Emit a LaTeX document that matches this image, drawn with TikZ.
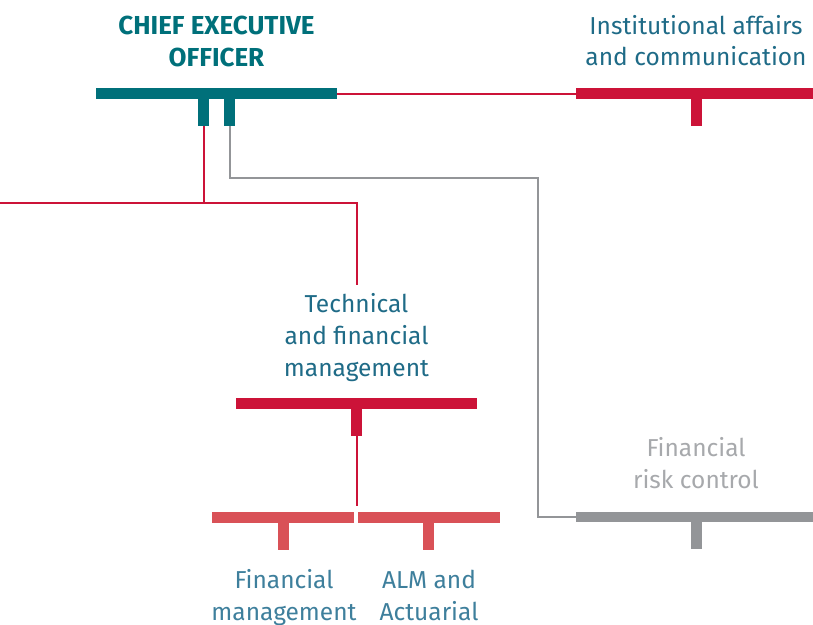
\documentclass[tikz,border=0pt]{standalone}
\usepackage{fontspec}
\setmainfont{Fira Sans}
\begin{document}
\begin{tikzpicture}[x=1pt,y=-1pt,
  bar/.style={fill=#1,draw=none,inner sep=0pt,minimum height=11pt,outer sep=0pt},
  stub/.style={fill=#1,draw=none,inner sep=0pt,minimum width=11pt,minimum height=27pt,outer sep=0pt},
  lbl/.style={text=#1,font=\fontsize{24.5}{32}\selectfont,anchor=base,inner sep=0pt},
  boldlbl/.style={text=#1,font=\fontsize{26}{32}\selectfont\bfseries,anchor=base,inner sep=0pt},
  link/.style={draw=#1,line width=2pt}]
\definecolor{teal}{HTML}{00707A}
\definecolor{crim}{HTML}{CC1338}
\definecolor{lred}{HTML}{D95157}
\definecolor{gry}{HTML}{939598}
\definecolor{txtb}{HTML}{1F6B87}
\definecolor{txtl}{HTML}{3E7F9C}
\definecolor{txtg}{HTML}{A7A9AC}
\useasboundingbox (0,0) rectangle (813,624);
% CEO
\node[boldlbl=teal] (ceo1) at (216.5,34) {CHIEF EXECUTIVE};
\node[boldlbl=teal] (ceo2) at (216.5,66) {OFFICER};
\node[bar=teal,minimum width=241pt] (ceo) at (216.5,93.5) {};
\node[stub=teal] (ceoA) at (203.5,112.5) {};
\node[stub=teal] (ceoB) at (229.5,112.5) {};
% Institutional
\node[lbl=txtb] (ins1) at (696,34) {Institutional affairs};
\node[lbl=txtb] (ins2) at (696,65) {and communication};
\node[bar=crim,minimum width=237pt] (ins) at (694.5,93.5) {};
\node[stub=crim] (insS) at (696.5,112.5) {};
% Technical
\node[lbl=txtb] (tec1) at (356.5,312) {Technical};
\node[lbl=txtb] (tec2) at (356.5,344) {and financial};
\node[lbl=txtb] (tec3) at (356.5,376) {management};
\node[bar=crim,minimum width=241pt] (tec) at (356.5,403.5) {};
\node[stub=crim] (tecS) at (356.5,422.5) {};
% Financial management
\node[bar=lred,minimum width=142pt] (fin) at (283,517.5) {};
\node[stub=lred] (finS) at (283.5,536.5) {};
\node[lbl=txtl] (fin1) at (284,588) {Financial};
\node[lbl=txtl] (fin2) at (284,620) {management};
% ALM
\node[bar=lred,minimum width=142pt] (alm) at (429,517.5) {};
\node[stub=lred] (almS) at (428.5,536.5) {};
\node[lbl=txtl] (alm1) at (429,588) {ALM and};
\node[lbl=txtl] (alm2) at (429,620) {Actuarial};
% Risk
\node[lbl=txtg] (rsk1) at (696,456) {Financial};
\node[lbl=txtg] (rsk2) at (696,488) {risk control};
\node[bar=gry,minimum width=237pt,minimum height=10pt] (rsk) at (694.5,517) {};
\node[stub=gry] (rskS) at (696.5,535.5) {};
% connectors
\coordinate (j1) at (203.5,203);
\coordinate (lft) at (0,203);
\coordinate (tecTop) at (356.5,285);
\coordinate (g1) at (538,178);
\coordinate (sub) at (356.5,506);
\draw[link=crim] (ceo.east) -- (ins.west);
\draw[link=crim] (ceoA.south) -- (j1);
\draw[link=crim] (lft) -- (j1) -| (tecTop);
\draw[link=gry] (ceoB.south) |- (g1) |- (rsk.west);
\draw[link=crim] (tecS.south) -- (sub);
\end{tikzpicture}
\end{document}
